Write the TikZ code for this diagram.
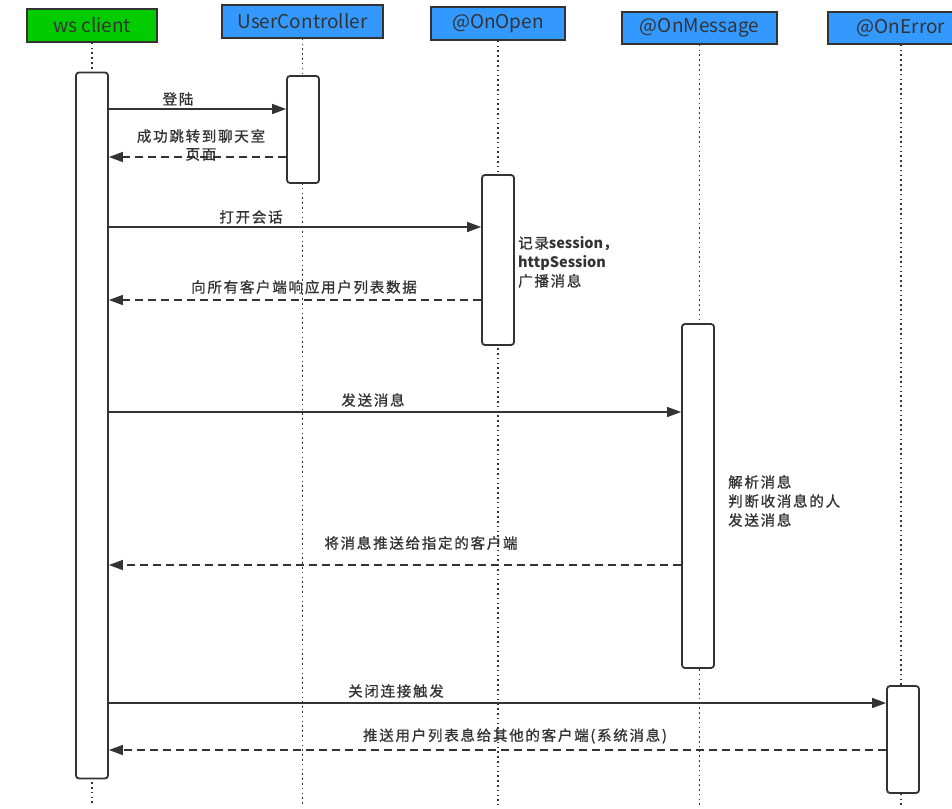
\documentclass[tikz,border=0pt]{standalone}
\usepackage{fontspec}
\setmainfont{Noto Sans CJK SC}
\newfontfamily\lblfont[LetterSpace=12, FakeBold=1]{Noto Sans CJK SC}
\newfontfamily\plainfont{Noto Sans CJK SC}
\usetikzlibrary{arrows.meta}
\definecolor{ink}{HTML}{333333}
\definecolor{hgreen}{HTML}{00CC00}
\definecolor{hblue}{HTML}{3399FF}
\begin{document}
\begin{tikzpicture}[x=1pt,y=-1pt,
  hdr/.style={draw=ink, line width=1.8pt, minimum height=33pt, inner sep=0pt, font=\fontsize{19}{22}\selectfont, text=ink},
  act/.style={draw=ink, fill=white, line width=1.8pt, rounded corners=3pt, minimum width=32pt, inner sep=0pt},
  life/.style={draw=ink, line width=1.6pt, dash pattern=on 1.6pt off 3.2pt},
  msg/.style={draw=ink, line width=1.5pt, -{Triangle[length=14pt,width=10pt]}},
  ret/.style={msg, dash pattern=on 8pt off 5pt},
  lbl/.style={text=ink, inner sep=0pt, font=\lblfont\fontsize{14.5}{18}\selectfont, align=center},
  note/.style={lbl, align=left, anchor=west, font=\lblfont\fontsize{14.5}{19}\selectfont}]
\useasboundingbox (0,0) rectangle (952,808);
\clip (0,0) rectangle (952,808);
% headers
\node[hdr, fill=hgreen, minimum width=130pt] (ws) at (92,25.5) {ws client};
\node[hdr, fill=hblue, minimum width=161pt] (uc) at (302.5,21.5) {UserController};
\node[hdr, fill=hblue, minimum width=134pt] (oo) at (498,23.5) {@OnOpen};
\node[hdr, fill=hblue, minimum width=155pt, minimum height=32pt] (om) at (699.5,28) {@OnMessage};
\node[hdr, fill=hblue, minimum width=146pt, minimum height=32pt] (oe) at (901,28) {@OnError};
% lifelines
\draw[life] (ws.south) -- (ws.south |- 0,805);
\draw[life] (uc.south) -- (uc.south |- 0,805);
\draw[life] (oo.south) -- (oo.south |- 0,805);
\draw[life] (om.south) -- (om.south |- 0,805);
\draw[life] (oe.south) -- (oe.south |- 0,805);
% activations
\node[act, minimum height=706pt] (wsa) at (92,425.5) {};
\node[act, minimum height=107pt] (uca) at (303,129.5) {};
\node[act, minimum height=170pt] (ooa) at (498,260) {};
\node[act, minimum height=344pt] (oma) at (698,496) {};
\node[act, minimum height=107pt] (oea) at (903,739.5) {};
% messages
\draw[msg] (wsa.east |- 0,109) -- (uca.west |- 0,109);
\node[lbl] (l1) at (178,99) {登陆};
\draw[ret] (uca.west |- 0,157) -- (wsa.east |- 0,157);
\node[lbl] (l2) at (201,145) {成功跳转到聊天室\\页面};
\draw[msg] (wsa.east |- 0,227) -- (ooa.west |- 0,227);
\node[lbl] (l3) at (251,217) {打开会话};
\draw[ret] (ooa.west |- 0,300) -- (wsa.east |- 0,300);
\node[lbl] (l4) at (304,287) {向所有客户端响应用户列表数据};
\draw[msg] (wsa.east |- 0,412) -- (oma.west |- 0,412);
\node[lbl] (l5) at (373,400) {发送消息};
\draw[ret] (oma.west |- 0,565) -- (wsa.east |- 0,565);
\node[lbl] (l6) at (421,543) {将消息推送给指定的客户端};
\draw[msg] (wsa.east |- 0,703) -- (oea.west |- 0,703);
\node[lbl] (l7) at (396,691) {关闭连接触发};
\draw[ret] (oea.west |- 0,750) -- (wsa.east |- 0,750);
\node[lbl] (l8) at (515,736) {推送用户列表息给其他的客户端(系统消息)};
% notes
\node[note] (n1) at (518,262) {记录{\plainfont\bfseries session，}\\{\plainfont\bfseries httpSession}\\广播消息};
\node[note] (n2) at (728,501) {解析消息\\判断收消息的人\\发送消息};
\end{tikzpicture}
\end{document}
